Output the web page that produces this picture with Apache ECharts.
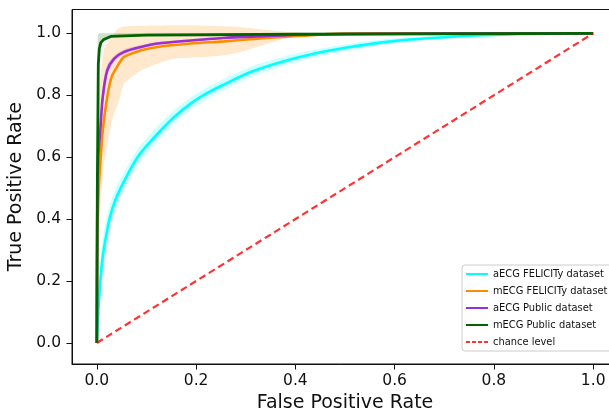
<!DOCTYPE html>
<html>
<head>
<meta charset="utf-8">
<script src="https://cdn.jsdelivr.net/npm/echarts@6/dist/echarts.min.js"></script>
<style>
html, body { margin: 0; padding: 0; background: #fff; }
#chart { width: 609px; height: 412px; }
</style>
</head>
<body>
<div id="chart"></div>
<script>
// tick positions on both axes
var tickValues = [0, 0.2, 0.4, 0.6, 0.8, 1.0];

// aECG FELICITy (cyan) - mean curve + band on same fpr grid
var aFelFpr   = [0, 0.003, 0.007, 0.012, 0.018, 0.027, 0.037, 0.048, 0.064, 0.082, 0.105, 0.129, 0.158, 0.189, 0.22, 0.25, 0.31, 0.37, 0.437, 0.504, 0.571, 0.638, 0.706, 0.773, 0.846, 0.92, 1];
var aFelTpr   = [0, 0.1, 0.2, 0.28, 0.34, 0.41, 0.46, 0.5, 0.55, 0.6, 0.645, 0.687, 0.733, 0.773, 0.805, 0.83, 0.875, 0.907, 0.934, 0.954, 0.97, 0.981, 0.988, 0.994, 0.997, 0.999, 1];
var aFelUpper = [0, 0.15, 0.26, 0.335, 0.39, 0.45, 0.495, 0.53, 0.578, 0.626, 0.67, 0.711, 0.755, 0.793, 0.824, 0.848, 0.892, 0.922, 0.947, 0.965, 0.979, 0.988, 0.993, 0.998, 0.999, 1, 1];
var aFelLower = [0, 0.05, 0.14, 0.225, 0.29, 0.37, 0.425, 0.47, 0.522, 0.574, 0.62, 0.663, 0.711, 0.753, 0.786, 0.812, 0.858, 0.892, 0.921, 0.943, 0.961, 0.974, 0.983, 0.99, 0.995, 0.998, 1];

// mECG FELICITy (orange)
var mFelFpr = [0, 0.001, 0.004, 0.007, 0.012, 0.021, 0.03, 0.042, 0.055, 0.089, 0.122, 0.189, 0.256, 0.323, 0.39, 0.45, 0.5, 0.7, 1];
var mFelTpr = [0, 0.35, 0.5, 0.58, 0.687, 0.795, 0.86, 0.895, 0.924, 0.945, 0.956, 0.967, 0.974, 0.983, 0.99, 0.996, 0.999, 1, 1];
var mFelUpper = [[0, 0], [0.001, 0.6], [0.003, 0.75], [0.007, 0.85], [0.014, 0.945], [0.025, 0.98], [0.031, 0.99], [0.042, 1.015],
                 [0.06, 1.023], [0.19, 1.026], [0.29, 1.02], [0.35, 1.01], [0.39, 1.004], [0.44, 1.0], [1, 1]];
var mFelLower = [[0, 0], [0.004, 0.3], [0.008, 0.46], [0.014, 0.57], [0.031, 0.72], [0.045, 0.784], [0.055, 0.838], [0.089, 0.88],
                 [0.122, 0.902], [0.155, 0.918], [0.189, 0.921], [0.223, 0.924], [0.256, 0.929], [0.29, 0.94], [0.323, 0.956],
                 [0.356, 0.972], [0.39, 0.988], [0.44, 0.997], [0.5, 1], [1, 1]];

// aECG Public (purple)
var aPubFpr   = [0, 0.001, 0.003, 0.007, 0.012, 0.021, 0.035, 0.055, 0.089, 0.122, 0.189, 0.256, 0.323, 0.39, 0.5, 0.7, 1];
var aPubTpr   = [0, 0.45, 0.6, 0.687, 0.795, 0.88, 0.918, 0.94, 0.956, 0.967, 0.977, 0.985, 0.99, 0.995, 0.998, 0.999, 1];
var aPubUpper = [0, 0.5, 0.65, 0.73, 0.83, 0.9, 0.928, 0.948, 0.962, 0.972, 0.981, 0.988, 0.992, 0.996, 0.999, 1, 1];
var aPubLower = [0, 0.4, 0.55, 0.64, 0.76, 0.86, 0.908, 0.932, 0.95, 0.962, 0.973, 0.982, 0.988, 0.994, 0.997, 0.998, 1];

// mECG Public (dark green)
var mPubFpr = [0, 0.001, 0.003, 0.005, 0.008, 0.014, 0.028, 0.1, 0.4, 1];
var mPubTpr = [0, 0.5, 0.9, 0.95, 0.97, 0.98, 0.99, 0.994, 0.997, 1];
var mPubUpper = [[0, 0.02], [0.001, 0.8], [0.002, 0.99], [0.005, 1.0], [1, 1]];
var mPubLower = [[0, -0.016], [0.001, 0.3], [0.003, 0.8], [0.006, 0.93], [0.01, 0.96], [0.015, 0.975], [0.03, 0.988],
                 [0.1, 0.992], [0.4, 0.995], [1, 1]];

// chance level diagonal
var chanceFpr = [0, 1];
var chanceTpr = [0, 1];

var names = ['aECG FELICITy dataset', 'mECG FELICITy dataset', 'aECG Public dataset', 'mECG Public dataset', 'chance level'];

function zip(xs, ys) {
    return xs.map(function (x, i) { return [x, ys[i]]; });
}

function bandSeries(upper, lower, fill) {
    return {
        type: 'custom',
        silent: true,
        data: [[0, 0]],
        renderItem: function (params, api) {
            var pts = [];
            upper.forEach(function (p) { pts.push(api.coord(p)); });
            lower.slice().reverse().forEach(function (p) { pts.push(api.coord(p)); });
            return { type: 'polygon', shape: { points: pts, smooth: 0.2 }, style: { fill: fill } };
        }
    };
}

function lineSeries(name, data, color, width, dash, smooth) {
    return {
        name: name,
        type: 'line',
        data: data,
        showSymbol: false,
        symbol: 'none',
        smooth: smooth || false,
        itemStyle: { color: color },
        lineStyle: { color: color, width: width, type: dash || 'solid' }
    };
}

var solidIcon = 'path://M0,0H22V2H0Z';
var dashIcon = 'path://M0,0H4V2H0Z M6,0H10V2H6Z M12,0H16V2H12Z M18,0H22V2H18Z';

var font = 'DejaVu Sans';
var chart = echarts.init(document.getElementById('chart'));
chart.setOption({
    animation: false,
    backgroundColor: '#fff',
    grid: {
        left: 72, top: 9.5, width: 546, height: 354.5,
        outerBoundsMode: 'none', containLabel: false,
        show: true, borderColor: '#111', borderWidth: 1
    },
    legend: {
        orient: 'vertical',
        left: 462,
        top: 265,
        itemWidth: 22,
        itemHeight: 10,
        itemGap: 7,
        padding: [4, 8, 4, 4],
        backgroundColor: 'rgba(255,255,255,0.8)',
        borderColor: '#cccccc',
        borderWidth: 1,
        borderRadius: 3,
        textStyle: { fontFamily: font, fontSize: 9.9, color: '#111' },
        data: [
            { name: names[0], icon: solidIcon },
            { name: names[1], icon: solidIcon },
            { name: names[2], icon: solidIcon },
            { name: names[3], icon: solidIcon },
            { name: names[4], icon: dashIcon }
        ]
    },
    xAxis: {
        type: 'value',
        min: -0.05,
        max: 1.05,
        name: 'False Positive Rate',
        nameLocation: 'middle',
        nameGap: 30,
        nameTextStyle: { fontFamily: font, fontSize: 19, color: '#111' },
        splitLine: { show: false },
        axisLine: { onZero: false, lineStyle: { color: '#111', width: 1 } },
        axisTick: { customValues: tickValues, length: 5.5, lineStyle: { color: '#111' } },
        axisLabel: {
            customValues: tickValues, margin: 9, fontFamily: font, fontSize: 15.5, color: '#111',
            formatter: function (v) { return v.toFixed(1); }
        }
    },
    yAxis: {
        type: 'value',
        min: -0.068,
        max: 1.077,
        name: 'True Positive Rate',
        nameLocation: 'middle',
        nameGap: 36,
        nameTextStyle: { fontFamily: font, fontSize: 19, color: '#111' },
        splitLine: { show: false },
        axisLine: { show: true, onZero: false, lineStyle: { color: '#111', width: 1 } },
        axisTick: { show: true, customValues: tickValues, length: 5.5, lineStyle: { color: '#111' } },
        axisLabel: {
            customValues: tickValues, margin: 11, fontFamily: font, fontSize: 15.5, color: '#111',
            formatter: function (v) { return v.toFixed(1); }
        }
    },
    series: [
        bandSeries(zip(aFelFpr, aFelUpper), zip(aFelFpr, aFelLower), 'rgba(0,255,255,0.2)'),
        lineSeries(names[0], zip(aFelFpr, aFelTpr), '#00ffff', 2.6, null, 0.3),
        bandSeries(mFelUpper, mFelLower, 'rgba(255,140,0,0.2)'),
        lineSeries(names[1], zip(mFelFpr, mFelTpr), '#ff8c00', 2.6, null, 0.3),
        bandSeries(zip(aPubFpr, aPubUpper), zip(aPubFpr, aPubLower), 'rgba(153,50,204,0.2)'),
        lineSeries(names[2], zip(aPubFpr, aPubTpr), '#9932cc', 2.6, null, 0.3),
        bandSeries(mPubUpper, mPubLower, 'rgba(0,100,0,0.2)'),
        lineSeries(names[3], zip(mPubFpr, mPubTpr), '#006400', 2.8),
        lineSeries(names[4], zip(chanceFpr, chanceTpr), 'rgba(255,0,0,0.8)', 2.2, [7, 4])
    ]
});
</script>
</body>
</html>
